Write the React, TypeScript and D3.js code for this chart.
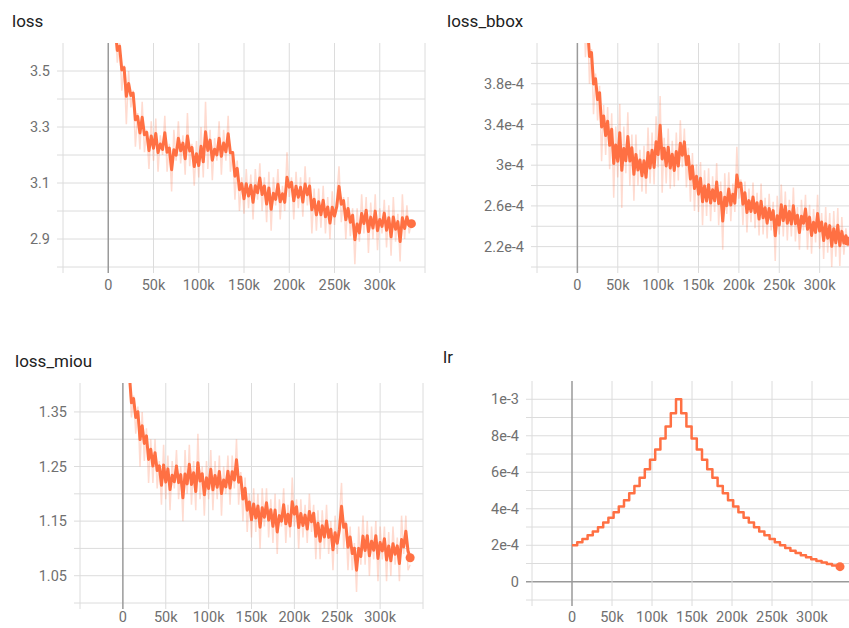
import React, { useEffect, useRef } from "react";
import * as d3 from "d3";

// steps of the noisy scalars (every 2.5k from 7.5k to 335k)
const noisySteps = d3.range(7500, 337500, 2500);

const lossRaw = [
  3.66, 3.53, 3.60, 3.43, 3.52, 3.31, 3.50, 3.37, 3.43, 3.23,
  3.35, 3.22, 3.39, 3.21, 3.29, 3.15, 3.32, 3.18, 3.33, 3.14,
  3.27, 3.20, 3.34, 3.14, 3.24, 3.07, 3.29, 3.18, 3.32, 3.17,
  3.27, 3.13, 3.35, 3.16, 3.24, 3.09, 3.25, 3.12, 3.30, 3.12,
  3.39, 3.15, 3.29, 3.11, 3.26, 3.18, 3.32, 3.13, 3.29, 3.18,
  3.34, 3.14, 3.21, 3.04, 3.18, 3.00, 3.12, 2.99, 3.15, 3.01,
  3.13, 2.97, 3.15, 3.04, 3.17, 3.00, 3.12, 2.96, 3.14, 2.93,
  3.12, 3.02, 3.15, 2.97, 3.09, 3.00, 3.21, 3.05, 3.12, 2.97,
  3.14, 3.01, 3.12, 2.98, 3.16, 3.02, 3.12, 2.92, 3.08, 2.93,
  3.08, 2.94, 3.09, 2.92, 3.05, 2.90, 3.07, 2.95, 3.05, 3.16,
  2.96, 3.05, 2.90, 3.05, 2.91, 3.01, 2.81, 3.01, 2.89, 3.06,
  2.92, 3.05, 2.85, 3.03, 2.90, 3.06, 2.86, 3.01, 2.92, 3.04,
  2.87, 3.02, 2.84, 3.05, 2.89, 2.99, 2.82, 3.06, 2.90, 3.02,
  2.92, 2.96,
];

// in units of 1e-4
const bboxRaw = [
  4.70, 4.06, 4.45, 3.80, 4.14, 3.50, 3.90, 3.44, 3.78, 3.04,
  3.59, 3.10, 3.57, 2.96, 3.51, 2.68, 3.38, 2.88, 3.60, 2.58,
  3.38, 2.92, 3.52, 2.80, 3.30, 2.65, 3.30, 2.80, 3.15, 2.74,
  3.19, 2.72, 3.37, 2.82, 3.32, 2.81, 3.48, 2.98, 3.68, 2.73,
  3.27, 2.82, 3.36, 2.77, 3.24, 2.79, 3.32, 2.85, 3.44, 2.98,
  3.36, 2.78, 3.17, 2.64, 3.12, 2.55, 3.01, 2.54, 3.03, 2.41,
  2.95, 2.50, 2.97, 2.45, 2.89, 2.54, 3.02, 2.41, 2.84, 2.17,
  2.92, 2.52, 2.93, 2.45, 2.82, 2.54, 3.18, 2.67, 2.86, 2.41,
  2.84, 2.34, 2.77, 2.44, 2.83, 2.38, 2.73, 2.31, 2.82, 2.32,
  2.68, 2.28, 2.72, 2.36, 2.64, 2.06, 2.70, 2.32, 2.81, 2.30,
  2.74, 2.26, 2.66, 2.30, 2.78, 2.25, 2.59, 2.17, 2.66, 2.36,
  2.71, 2.17, 2.61, 2.13, 2.57, 2.24, 2.71, 2.18, 2.53, 2.08,
  2.59, 2.14, 2.53, 2.00, 2.55, 2.10, 2.58, 2.01, 2.49, 2.12,
  2.38, 2.20,
].map(v => v * 1e-4);

const miouRaw = [
  1.42, 1.34, 1.38, 1.31, 1.36, 1.25, 1.35, 1.26, 1.32, 1.22,
  1.30, 1.22, 1.30, 1.21, 1.26, 1.18, 1.29, 1.19, 1.27, 1.17,
  1.26, 1.21, 1.28, 1.19, 1.25, 1.15, 1.28, 1.20, 1.29, 1.18,
  1.26, 1.17, 1.31, 1.19, 1.25, 1.16, 1.26, 1.19, 1.28, 1.17,
  1.26, 1.19, 1.27, 1.16, 1.25, 1.20, 1.27, 1.18, 1.27, 1.21,
  1.30, 1.18, 1.24, 1.15, 1.23, 1.13, 1.20, 1.12, 1.21, 1.13,
  1.20, 1.10, 1.21, 1.14, 1.21, 1.12, 1.19, 1.11, 1.20, 1.09,
  1.19, 1.14, 1.21, 1.11, 1.18, 1.12, 1.23, 1.14, 1.19, 1.10,
  1.19, 1.12, 1.18, 1.11, 1.20, 1.13, 1.18, 1.08, 1.17, 1.08,
  1.17, 1.10, 1.18, 1.09, 1.15, 1.06, 1.16, 1.09, 1.16, 1.22,
  1.10, 1.15, 1.06, 1.14, 1.06, 1.11, 1.02, 1.14, 1.07, 1.16,
  1.07, 1.15, 1.05, 1.14, 1.08, 1.15, 1.04, 1.14, 1.08, 1.14,
  1.04, 1.13, 1.05, 1.14, 1.07, 1.12, 1.04, 1.16, 1.09, 1.16,
  1.06, 1.07,
];

// lr changes every 6.5k steps
const lrSteps = [...d3.range(0, 335000, 6500), 335000];
const lrValues = [
  2.000, 2.168, 2.349, 2.546, 2.759, 2.991, 3.241, 3.513, 3.807, 4.126,
  4.472, 4.847, 5.253, 5.693, 6.170, 6.687, 7.248, 7.855, 8.513, 9.227,
  10.000, 9.227, 8.513, 7.855, 7.248, 6.687, 6.170, 5.693, 5.253, 4.847,
  4.472, 4.126, 3.807, 3.513, 3.241, 2.991, 2.759, 2.546, 2.349, 2.168,
  2.000, 1.845, 1.703, 1.571, 1.450, 1.338, 1.234, 1.139, 1.051, 0.970,
  0.895, 0.826, 0.826,
].map(v => v * 1e-4);

const xGrid = [-50000, 0, 50000, 100000, 150000, 200000, 250000, 300000, 350000];
const xTicks = [0, 50000, 100000, 150000, 200000, 250000, 300000];
const xLabels = ["0", "50k", "100k", "150k", "200k", "250k", "300k"];

const lossGrid = [2.8, 2.9, 3.0, 3.1, 3.2, 3.3, 3.4, 3.5];
const lossTicks = [3.5, 3.3, 3.1, 2.9];
const lossLabels = ["3.5", "3.3", "3.1", "2.9"];

const bboxGrid = [2.0, 2.2, 2.4, 2.6, 2.8, 3.0, 3.2, 3.4, 3.6, 3.8, 4.0].map(v => v * 1e-4);
const bboxTicks = [3.8, 3.4, 3.0, 2.6, 2.2].map(v => v * 1e-4);
const bboxLabels = ["3.8e-4", "3.4e-4", "3e-4", "2.6e-4", "2.2e-4"];

const miouGrid = [1.0, 1.05, 1.1, 1.15, 1.2, 1.25, 1.3, 1.35];
const miouTicks = [1.35, 1.25, 1.15, 1.05];
const miouLabels = ["1.35", "1.25", "1.15", "1.05"];

const lrGrid = [-1, 0, 1, 2, 3, 4, 5, 6, 7, 8, 9, 10].map(v => v * 1e-4);
const lrTicks = [10, 8, 6, 4, 2, 0].map(v => v * 1e-4);
const lrLabels = ["1e-3", "8e-4", "6e-4", "4e-4", "2e-4", "0"];

const ORANGE = "#ff7043";

// tensorboard style debiased exponential moving average
function smooth(values: number[], w: number) {
  let last = 0;
  return values.map((v, i) => {
    last = last * w + (1 - w) * v;
    return last / (1 - Math.pow(w, i + 1));
  });
}

type PanelProps = {
  id: string;
  title: string;
  titleX: number;
  titleY: number;
  left: number;
  right: number;
  top: number;
  bottom: number;
  labelGap: number;
  yDomain: [number, number];
  yGrid: number[];
  yTicks: number[];
  yLabels: string[];
  steps: number[];
  values: number[];
  raw: boolean;
  stepped: boolean;
};

const Panel = (props: PanelProps) => {
  const ref = useRef<SVGGElement>(null);
  const { id, title, titleX, titleY, left, right, top, bottom, labelGap, yDomain, yGrid, yTicks, yLabels, steps, values, raw, stepped } = props;

  useEffect(() => {
    const g = d3.select(ref.current);
    g.selectAll("*").remove();

    const x = d3.scaleLinear().domain([-50000, 350000]).range([left, right]);
    const y = d3.scaleLinear().domain(yDomain).range([bottom, top]);

    g.append("clipPath").attr("id", id)
      .append("rect")
      .attr("x", left).attr("y", top)
      .attr("width", right - left).attr("height", bottom - top);

    // grid
    g.selectAll(".hg").data(yGrid).join("line")
      .attr("x1", left - 6).attr("x2", right)
      .attr("y1", d => y(d)).attr("y2", d => y(d))
      .attr("stroke", d => Math.abs(d) < 1e-12 ? "#9a9a9a" : "#dcdcdc")
      .attr("stroke-width", d => Math.abs(d) < 1e-12 ? 1.5 : 1);

    g.selectAll(".vg").data(xGrid).join("line")
      .attr("x1", d => x(d)).attr("x2", d => x(d))
      .attr("y1", top).attr("y2", bottom + 6)
      .attr("stroke", d => d === 0 ? "#9a9a9a" : "#dcdcdc")
      .attr("stroke-width", d => d === 0 ? 1.5 : 1);

    // labels
    g.selectAll(".yl").data(yTicks).join("text")
      .attr("x", left - 13).attr("y", d => y(d))
      .attr("dy", "0.36em")
      .attr("text-anchor", "end")
      .attr("font-family", "Roboto, sans-serif")
      .attr("font-size", 14.5)
      .attr("fill", "#707070")
      .text((d, i) => yLabels[i]);

    g.selectAll(".xl").data(xTicks).join("text")
      .attr("x", d => x(d)).attr("y", bottom + labelGap)
      .attr("dy", "0.36em")
      .attr("text-anchor", "middle")
      .attr("font-family", "Roboto, sans-serif")
      .attr("font-size", 14.5)
      .attr("fill", "#707070")
      .text((d, i) => xLabels[i]);

    g.append("text")
      .attr("x", titleX).attr("y", titleY)
      .attr("font-family", "Roboto, sans-serif")
      .attr("font-size", 17)
      .attr("fill", "#212121")
      .text(title);

    const plot = g.append("g").attr("clip-path", `url(#${id})`);

    const line = d3.line<number>()
      .x((d, i) => x(steps[i]))
      .y(d => y(d))
      .curve(stepped ? d3.curveStepAfter : d3.curveLinear);

    if (raw) {
      plot.append("path")
        .attr("d", line(values))
        .attr("fill", "none")
        .attr("stroke", ORANGE)
        .attr("stroke-opacity", 0.25)
        .attr("stroke-width", 1.5);
    }

    const shown = raw ? smooth(values, 0.5) : values;
    plot.append("path")
      .attr("d", line(shown))
      .attr("fill", "none")
      .attr("stroke", ORANGE)
      .attr("stroke-width", raw ? 3 : 2.5)
      .attr("stroke-linejoin", "round");

    const last = shown.length - 1;
    g.append("circle")
      .attr("cx", x(steps[last]))
      .attr("cy", y(shown[last]))
      .attr("r", 4.5)
      .attr("fill", ORANGE);
  }, [props]);

  return <g ref={ref} />;
};

const App = () => {
  return (
    <svg width={849} height={628} style={{ position: "absolute", left: 0, top: 0, background: "#fff" }}>
      <Panel id="c1" title="loss" titleX={12} titleY={27}
        left={63} right={425} top={43} bottom={267} labelGap={18}
        yDomain={[2.8, 3.6]} yGrid={lossGrid} yTicks={lossTicks} yLabels={lossLabels}
        steps={noisySteps} values={lossRaw} raw={true} stepped={false} />
      <Panel id="c2" title="loss_bbox" titleX={447} titleY={27}
        left={537} right={860} top={43} bottom={267} labelGap={18}
        yDomain={[2.0e-4, 4.2e-4]} yGrid={bboxGrid} yTicks={bboxTicks} yLabels={bboxLabels}
        steps={noisySteps} values={bboxRaw} raw={true} stepped={false} />
      <Panel id="c3" title="loss_miou" titleX={15} titleY={367}
        left={80} right={423} top={383} bottom={603} labelGap={14}
        yDomain={[1.0, 1.403]} yGrid={miouGrid} yTicks={miouTicks} yLabels={miouLabels}
        steps={noisySteps} values={miouRaw} raw={true} stepped={false} />
      <Panel id="c4" title="lr" titleX={443} titleY={363}
        left={532} right={852} top={381} bottom={600} labelGap={17}
        yDomain={[-1e-4, 1.1e-3]} yGrid={lrGrid} yTicks={lrTicks} yLabels={lrLabels}
        steps={lrSteps} values={lrValues} raw={false} stepped={true} />
    </svg>
  );
};

export default App;
